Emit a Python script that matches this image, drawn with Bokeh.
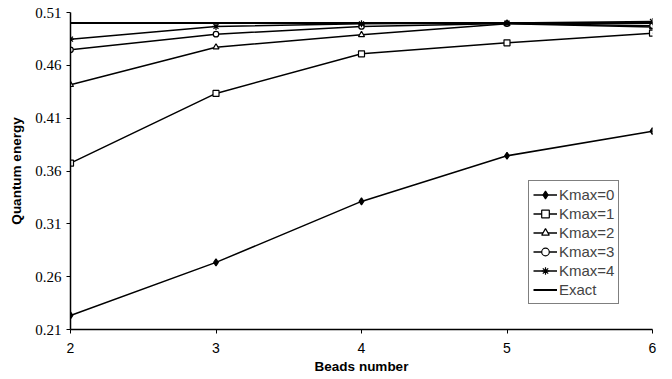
from bokeh.plotting import figure
from bokeh.embed import file_html
from bokeh.resources import INLINE
from bokeh.models import FixedTicker, Range1d

beads = [2, 3, 4, 5, 6]
k0 = [0.2233, 0.2735, 0.3312, 0.3744, 0.3977]
k1 = [0.3674, 0.4334, 0.4709, 0.4813, 0.4904]
k2 = [0.4416, 0.4772, 0.4889, 0.4993, 0.4962]
k3 = [0.4747, 0.4895, 0.4968, 0.4995, 0.4975]
k4 = [0.4848, 0.4968, 0.4993, 0.5000, 0.5015]
exact = [0.5, 0.5, 0.5, 0.5, 0.5]
y_ticks = [0.21, 0.26, 0.31, 0.36, 0.41, 0.46, 0.51]
x_ticks = [2, 3, 4, 5, 6]

p = figure(width=672, height=379, output_backend="svg", toolbar_location=None,
           x_range=Range1d(2, 6), y_range=Range1d(0.21, 0.51),
           min_border_left=70, min_border_right=20, min_border_top=12, min_border_bottom=50)
p.outline_line_color = None
p.xgrid.visible = False
p.ygrid.visible = False
p.background_fill_color = "white"

series = [
    (k0, "Kmax=0", "diamond", "black", 7),
    (k1, "Kmax=1", "square", "white", 6),
    (k2, "Kmax=2", "triangle", "white", 6),
    (k3, "Kmax=3", "circle", "white", 5.5),
    (k4, "Kmax=4", "asterisk", "black", 7),
]
for ys, lab, mk, fill, sz in series:
    p.line(beads, ys, line_color="black", line_width=1.5, legend_label=lab)
    p.scatter(beads, ys, marker=mk, size=sz, line_color="black", fill_color=fill,
              line_width=1.2, legend_label=lab)
p.line(beads, exact, line_color="black", line_width=2, legend_label="Exact")

p.yaxis.ticker = FixedTicker(ticks=y_ticks)
p.xaxis.ticker = FixedTicker(ticks=x_ticks)
p.yaxis.formatter.use_scientific = False
for ax in (p.xaxis[0], p.yaxis[0]):
    ax.axis_line_color = "black"
    ax.axis_line_width = 1.5
    ax.major_tick_line_color = "black"
    ax.minor_tick_line_color = None
    ax.major_tick_in = 0
    ax.major_tick_out = 4
    ax.major_label_text_color = "black"
    ax.axis_label_text_color = "black"
    ax.axis_label_text_font = "Liberation Sans"
    ax.axis_label_text_font_style = "bold"
    ax.axis_label_text_font_size = "13.5px"
p.yaxis.major_label_text_font = "Liberation Serif"
p.yaxis.major_label_text_font_size = "15px"
p.xaxis.major_label_text_font = "Liberation Sans"
p.xaxis.major_label_text_font_size = "14px"
p.xaxis.major_label_standoff = 9
p.xaxis.axis_label = "Beads number"
p.yaxis.axis_label = "Quantum energy"
p.xaxis.axis_label_standoff = 3
p.yaxis.axis_label_standoff = 8

p.legend.location = (458, 25)
p.legend.border_line_color = "black"
p.legend.border_line_width = 1
p.legend.label_text_font = "Liberation Sans"
p.legend.label_text_font_size = "15px"
p.legend.spacing = 0
p.legend.padding = 4
p.legend.margin = 0
p.legend.glyph_width = 24
p.legend.label_height = 19
p.legend.glyph_height = 19
p.legend.label_standoff = 2
p.legend.background_fill_alpha = 1

open("out.html", "w").write(file_html(p, INLINE))
